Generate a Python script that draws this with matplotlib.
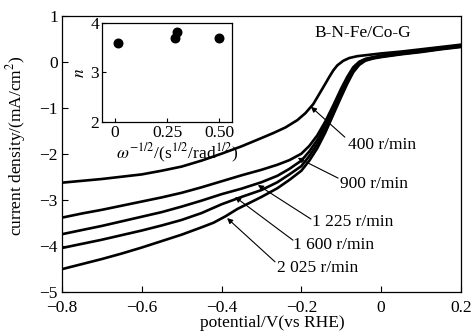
import matplotlib.pyplot as plt

plt.rcParams['font.family'] = ['Liberation Serif', 'DejaVu Serif']
plt.rcParams['mathtext.fontset'] = 'stix'
plt.rcParams['font.size'] = 12.5

# LSV curves, potential V vs RHE -> current density mA/cm2
v400 = [-0.8, -0.75, -0.7, -0.65, -0.6, -0.55, -0.5, -0.45, -0.4, -0.35, -0.3, -0.27, -0.24, -0.21,
        -0.19, -0.17, -0.155, -0.14, -0.13, -0.12, -0.11, -0.095, -0.08, -0.06, -0.03, 0.0, 0.05, 0.1, 0.15, 0.2]
j400 = [-2.63, -2.59, -2.55, -2.5, -2.45, -2.37, -2.28, -2.15, -2.0, -1.84, -1.66, -1.55, -1.43, -1.27,
        -1.12, -0.92, -0.7, -0.48, -0.33, -0.19, -0.08, 0.02, 0.08, 0.12, 0.15, 0.18, 0.22, 0.27, 0.32, 0.37]

v_rest = [-0.8, -0.75, -0.7, -0.65, -0.6, -0.55, -0.5, -0.45, -0.4, -0.35, -0.3, -0.26, -0.23, -0.2,
          -0.18, -0.16, -0.14, -0.12, -0.1, -0.085, -0.07, -0.055, -0.04, -0.02, 0.0, 0.05, 0.1, 0.15, 0.2]
j900 = [-3.39, -3.3, -3.22, -3.13, -3.04, -2.95, -2.85, -2.73, -2.6, -2.47, -2.35, -2.24, -2.14, -2.0,
        -1.83, -1.6, -1.3, -0.95, -0.58, -0.33, -0.12, 0.0, 0.06, 0.1, 0.13, 0.19, 0.24, 0.3, 0.35]
j1225 = [-3.75, -3.66, -3.57, -3.47, -3.37, -3.27, -3.15, -3.02, -2.88, -2.76, -2.62, -2.48, -2.33, -2.15,
         -1.95, -1.7, -1.38, -1.02, -0.64, -0.38, -0.15, -0.02, 0.05, 0.09, 0.12, 0.18, 0.23, 0.29, 0.34]
j1600 = [-4.05, -3.96, -3.87, -3.77, -3.67, -3.56, -3.44, -3.29, -3.1, -2.94, -2.79, -2.62, -2.45, -2.27,
         -2.05, -1.79, -1.46, -1.08, -0.7, -0.43, -0.19, -0.04, 0.04, 0.08, 0.11, 0.17, 0.22, 0.28, 0.33]
v2025 = [-0.8, -0.75, -0.7, -0.65, -0.6, -0.55, -0.5, -0.45, -0.42, -0.39, -0.36, -0.33, -0.3, -0.26, -0.23,
         -0.2, -0.18, -0.16, -0.14, -0.12, -0.1, -0.085, -0.07, -0.055, -0.04, -0.02, 0.0, 0.05, 0.1, 0.15, 0.2]
j2025 = [-4.51, -4.4, -4.29, -4.17, -4.04, -3.9, -3.76, -3.6, -3.5, -3.36, -3.2, -3.07, -2.94, -2.75, -2.57,
         -2.37, -2.15, -1.88, -1.54, -1.15, -0.76, -0.48, -0.23, -0.07, 0.02, 0.07, 0.1, 0.16, 0.21, 0.27, 0.32]

# inset: electron transfer number
w = [0.017, 0.29, 0.296, 0.5]
n = [3.6, 3.7, 3.81, 3.69]

labels = ['400 r/min', '900 r/min', '1 225 r/min', '1 600 r/min', '2 025 r/min']
tips = [(-0.176, -0.98), (-0.209, -2.09), (-0.309, -2.68), (-0.366, -2.94), (-0.386, -3.4)]
tails = [(-0.091, -1.64), (-0.108, -2.53), (-0.176, -3.42), (-0.221, -3.88), (-0.266, -4.35)]
txtpos = [(-0.083, -1.81), (-0.103, -2.66), (-0.173, -3.48), (-0.221, -3.98), (-0.261, -4.48)]

fig = plt.figure(figsize=(4.76, 3.34), dpi=100)
ax = fig.add_axes([0.130, 0.1266, 0.8385, 0.8264])

lw = 1.9
ax.plot(v400, j400, 'k-', lw=lw)
ax.plot(v_rest, j900, 'k-', lw=lw)
ax.plot(v_rest, j1225, 'k-', lw=lw)
ax.plot(v_rest, j1600, 'k-', lw=lw)
ax.plot(v2025, j2025, 'k-', lw=lw)

for lab, tip, tail, tp in zip(labels, tips, tails, txtpos):
    ax.annotate('', xy=tip, xytext=tail,
                arrowprops=dict(arrowstyle='-|>', color='k', lw=0.8,
                                mutation_scale=8, shrinkA=0, shrinkB=0))
    ax.text(tp[0], tp[1], lab, ha='left', va='center')

ax.text(-0.166, 0.62, 'B-N-Fe/Co-G', ha='left', va='center')

ax.set_xlim(-0.8, 0.2)
ax.set_ylim(-5, 1)
ax.set_xticks([-0.8, -0.6, -0.4, -0.2, 0, 0.2])
ax.set_xticklabels(['\u22120.8', '\u22120.6', '\u22120.4', '\u22120.2', '0', '0.2'])
ax.set_yticks([-5, -4, -3, -2, -1, 0, 1])
ax.tick_params(direction='in', length=4, width=0.8, top=False, right=False)
ax.tick_params(axis='x', pad=6)
ax.tick_params(axis='y', pad=3)
ax.set_xlabel('potential/V(vs RHE)')
ax.xaxis.set_label_coords(0.526, -0.085)
ax.set_ylabel('current density/(mA/cm$^2$)')
ax.yaxis.set_label_coords(-0.085, 0.53)
for s in ax.spines.values():
    s.set_linewidth(0.9)

ins = fig.add_axes([0.2143, 0.635, 0.2731, 0.296])
ins.scatter(w, n, s=38, color='k', zorder=3)
ins.set_xlim(-0.06, 0.56)
ins.set_ylim(2, 4)
ins.set_xticks([0, 0.25, 0.5])
ins.set_xticklabels(['0', '0.25', '0.50'])
ins.set_yticks([2, 3, 4])
ins.tick_params(direction='in', length=3, width=0.8, pad=2)
ins.set_ylabel('$n$')
ins.yaxis.set_label_coords(-0.11, 0.5)
ins.set_xlabel('$\\omega^{-1/2}$/(s$^{1/2}$/rad$^{1/2}$)')
ins.xaxis.set_label_coords(0.577, -0.2)
for s in ins.spines.values():
    s.set_linewidth(0.9)

fig.savefig('out.png', dpi=100)
